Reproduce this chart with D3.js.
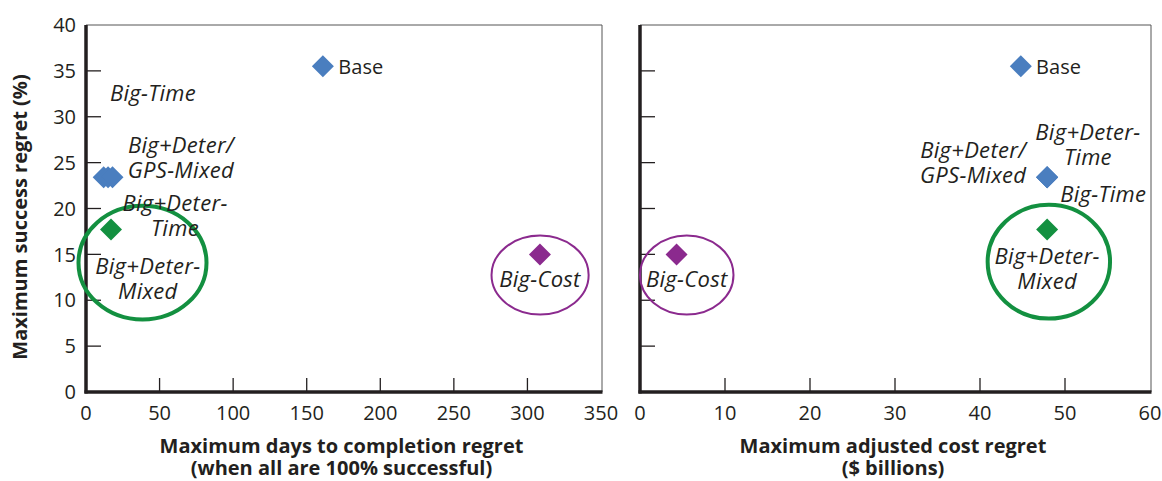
<!DOCTYPE html>
<html><head><meta charset="utf-8">
<script src="https://cdn.jsdelivr.net/npm/d3@7"></script>
<style>body{margin:0;background:#fff}</style>
</head><body>
<svg id="c" width="1162" height="481"></svg>
<script>
// ---- data ----
const scenarios = ["Base", "Big-Time", "Big+Deter/GPS-Mixed", "Big+Deter-Time", "Big+Deter-Mixed", "Big-Cost"];
const groups    = ["blue", "blue", "blue", "blue", "green", "purple"];
const successRegret = [35.5, 23.4, 23.4, 23.4, 17.7, 15.0];
const daysRegret    = [161, 12, 15, 18, 17, 308.5];
const costRegret    = [44.8, 47.9, 47.9, 47.9, 47.9, 4.3];

const yTicks = [0, 5, 10, 15, 20, 25, 30, 35, 40];
const xTicksDays = [0, 50, 100, 150, 200, 250, 300, 350];
const xTicksCost = [0, 10, 20, 30, 40, 50, 60];

// label anchors in data units
const labelsDays = [
  {lines:["Base"], x:171.5, y:35.4, italic:false, anchor:"start"},
  {lines:["Big-Time"], x:45.5, y:32.6, italic:true, anchor:"middle"},
  {lines:["Big+Deter/","GPS-Mixed"], x:64.5, y:25.5, italic:true, anchor:"middle"},
  {lines:["Big+Deter-","Time"], x:60.5, y:19.2, italic:true, anchor:"middle"},
  {lines:["Big+Deter-","Mixed"], x:42.0, y:12.3, italic:true, anchor:"middle"},
  {lines:["Big-Cost"], x:308.5, y:12.3, italic:true, anchor:"middle"}
];
const labelsCost = [
  {lines:["Base"], x:46.6, y:35.4, italic:false, anchor:"start"},
  {lines:["Big+Deter-","Time"], x:52.7, y:26.9, italic:true, anchor:"middle"},
  {lines:["Big+Deter/","GPS-Mixed"], x:39.2, y:25.0, italic:true, anchor:"middle"},
  {lines:["Big-Time"], x:54.5, y:21.5, italic:true, anchor:"middle"},
  {lines:["Big+Deter-","Mixed"], x:47.9, y:13.4, italic:true, anchor:"middle"},
  {lines:["Big-Cost"], x:5.5, y:12.3, italic:true, anchor:"middle"}
];
// highlight ellipses in data units
const ringsDays = [
  {group:"green", cx:38.4, cy:14.1, rx:43.5, ry:6.2},
  {group:"purple", cx:308.6, cy:12.75, rx:33, ry:4.3}
];
const ringsCost = [
  {group:"green", cx:48.1, cy:14.2, rx:7.2, ry:6.2},
  {group:"purple", cx:5.5, cy:12.75, rx:5.5, ry:4.3}
];

// ---- styles ----
const colors = {blue:"#4a7ebf", green:"#139040", purple:"#8b2a8e"};
const ringWidth = {green:4, purple:2};
const font = "'Open Sans', sans-serif";
const ink = "#231f20";

const svg = d3.select("#c");
const plotTop = 25, plotBottom = 392;
const y = d3.scaleLinear().domain([0, 40]).range([plotBottom, plotTop]);

function panel(x0, x1, domainMax, xTicks, xs, labels, rings, showYLabels, titleLines) {
  const x = d3.scaleLinear().domain([0, domainMax]).range([x0, x1]);
  const g = svg.append("g");
  g.append("line").attr("x1", x0).attr("x2", x1 + 1).attr("y1", plotTop).attr("y2", plotTop).attr("stroke", "#555").attr("stroke-width", 1);
  g.append("line").attr("x1", x1 + 1).attr("x2", x1 + 1).attr("y1", plotTop).attr("y2", plotBottom).attr("stroke", "#555").attr("stroke-width", 1);
  g.selectAll(".yt").data(yTicks.filter(d => d > 0 && d < 40)).join("line")
    .attr("x1", x0).attr("x2", x0 + 15).attr("y1", d => y(d)).attr("y2", d => y(d))
    .attr("stroke", ink).attr("stroke-width", 1.3);
  if (showYLabels) {
    g.selectAll(".yl").data(yTicks).join("text")
      .attr("x", x0 - 10).attr("y", d => y(d)).attr("dy", "0.36em")
      .attr("text-anchor", "end").attr("font-family", font).attr("font-size", 20).attr("fill", ink)
      .text(d => d);
  }
  g.selectAll(".xt").data(xTicks.filter((d, i) => i > 0 && i < xTicks.length - 1)).join("line")
    .attr("x1", d => x(d)).attr("x2", d => x(d)).attr("y1", plotBottom).attr("y2", plotBottom - 14)
    .attr("stroke", ink).attr("stroke-width", 1.3);
  g.selectAll(".xl").data(xTicks).join("text")
    .attr("x", d => x(d)).attr("y", plotBottom + 21).attr("dy", "0.36em")
    .attr("text-anchor", "middle").attr("font-family", font).attr("font-size", 20).attr("fill", ink)
    .text(d => d);
  g.append("line").attr("x1", x0).attr("x2", x0).attr("y1", plotTop).attr("y2", plotBottom + 1.5).attr("stroke", ink).attr("stroke-width", 3.5);
  g.append("line").attr("x1", x0 - 1.5).attr("x2", x1 + 1.5).attr("y1", plotBottom).attr("y2", plotBottom).attr("stroke", ink).attr("stroke-width", 3.5);
  titleLines.forEach((t, i) => {
    g.append("text").attr("x", (x0 + x1) / 2 - 2).attr("y", 446 + i * 22).attr("dy", "0.35em")
      .attr("text-anchor", "middle").attr("font-family", font).attr("font-weight", "bold").attr("font-size", 20).attr("fill", ink)
      .text(t);
  });
  g.selectAll(".ring").data(rings).join("ellipse")
    .attr("cx", d => x(d.cx)).attr("cy", d => y(d.cy))
    .attr("rx", d => x(d.rx) - x(0)).attr("ry", d => y(0) - y(d.ry))
    .attr("fill", "none").attr("stroke", d => colors[d.group]).attr("stroke-width", d => ringWidth[d.group]);
  const r = 11;
  const pts = scenarios.map((s, i) => ({s, g: groups[i], xv: xs[i], yv: successRegret[i]}));
  g.selectAll(".pt").data(pts).join("path")
    .attr("d", d => { const cx = x(d.xv), cy = y(d.yv); return `M${cx},${cy - r}L${cx + r},${cy}L${cx},${cy + r}L${cx - r},${cy}Z`; })
    .attr("fill", d => colors[d.g]);
  labels.forEach(l => {
    const n = l.lines.length;
    l.lines.forEach((line, i) => {
      g.append("text").attr("font-family", font).attr("font-size", l.italic ? 22 : 20).attr("fill", ink)
        .attr("letter-spacing", l.italic ? 0.3 : 0)
        .attr("font-style", l.italic ? "italic" : "normal").attr("text-anchor", l.anchor)
        .attr("x", x(l.x)).attr("y", y(l.y) + (i - (n - 1) / 2) * 25).attr("dy", "0.35em").text(line);
    });
  });
}

panel(86, 601, 350, xTicksDays, daysRegret, labelsDays, ringsDays, true,
  ["Maximum days to completion regret", "(when all are 100% successful)"]);
panel(640, 1150, 60, xTicksCost, costRegret, labelsCost, ringsCost, false,
  ["Maximum adjusted cost regret", "($ billions)"]);

svg.append("text").attr("transform", "translate(20,217) rotate(-90)")
  .attr("text-anchor", "middle").attr("dy", "0.35em").attr("font-family", font).attr("font-weight", "bold")
  .attr("font-size", 20).attr("fill", ink).text("Maximum success regret (%)");
</script>
</body></html>
